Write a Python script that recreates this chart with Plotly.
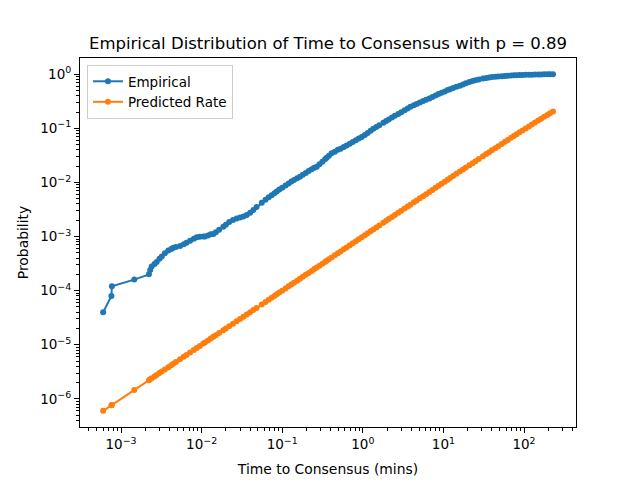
import plotly.graph_objects as go

# Sample times (mins), shared by both series
time_mins = [
    0.00060, 0.00076, 0.00077, 0.00146, 0.00222, 0.00230, 0.00240, 0.00260, 0.00277, 0.00300,
    0.00320, 0.00350, 0.00386, 0.00420, 0.00446, 0.00480, 0.00540, 0.00600, 0.00650, 0.00720,
    0.00800, 0.00870, 0.00950, 0.0105, 0.0110, 0.0120, 0.0130, 0.0140, 0.0150, 0.0165,
    0.0186, 0.0200, 0.0220, 0.0245, 0.0272, 0.0300, 0.0330, 0.0363, 0.0400, 0.0439,
    0.0480, 0.0557, 0.0620, 0.0680, 0.0740, 0.0800, 0.0855, 0.0920, 0.100, 0.110,
    0.120, 0.130, 0.140, 0.153, 0.166, 0.180, 0.196, 0.213, 0.232, 0.250,
    0.268, 0.290, 0.315, 0.340, 0.356, 0.380, 0.410, 0.450, 0.490, 0.530,
    0.580, 0.630, 0.690, 0.750, 0.820, 0.890, 0.970, 1.06, 1.15, 1.25,
    1.35, 1.47, 1.60, 1.80, 1.95, 2.10, 2.30, 2.50, 2.75, 3.00,
    3.30, 3.60, 3.90, 4.30, 4.66, 5.10, 5.60, 6.10, 6.70, 7.30,
    8.00, 8.70, 9.50, 10.4, 11.3, 12.1, 13.2, 14.5, 16.0, 17.5,
    19.0, 21.0, 23.0, 25.0, 27.5, 31.0, 34.0, 37.0, 40.0, 44.0,
    48.0, 53.0, 58.0, 63.0, 69.0, 75.0, 81.0, 88.0, 96.0, 105.0,
    115.0, 125.0, 137.0, 150.0, 163.0, 178.0, 195.0, 210.0, 229.0,
]

empirical = [
    4.0e-5, 8.0e-5, 1.2e-4, 1.6e-4, 2.0e-4, 2.4e-4, 2.8e-4, 3.1e-4, 3.4e-4, 3.9e-4,
    4.3e-4, 4.9e-4, 5.5e-4, 5.9e-4, 6.2e-4, 6.4e-4, 6.7e-4, 7.2e-4, 7.7e-4, 8.4e-4,
    9.1e-4, 9.7e-4, 9.9e-4, 1.0e-3, 1.0e-3, 1.05e-3, 1.1e-3, 1.12e-3, 1.2e-3, 1.33e-3,
    1.52e-3, 1.65e-3, 1.85e-3, 2.02e-3, 2.15e-3, 2.25e-3, 2.35e-3, 2.5e-3, 2.75e-3, 3.1e-3,
    3.5e-3, 4.2e-3, 4.8e-3, 5.3e-3, 5.8e-3, 6.3e-3, 6.8e-3, 7.4e-3, 8.0e-3, 8.8e-3,
    9.6e-3, 0.0104, 0.0111, 0.0120, 0.0128, 0.0138, 0.0150, 0.0162, 0.0175, 0.0186,
    0.0196, 0.0217, 0.0242, 0.0267, 0.0285, 0.0310, 0.0345, 0.0370, 0.0400, 0.0420,
    0.0450, 0.0480, 0.0520, 0.0560, 0.0600, 0.0650, 0.0690, 0.0750, 0.0820, 0.0900,
    0.098, 0.106, 0.114, 0.127, 0.136, 0.146, 0.159, 0.170, 0.184, 0.198,
    0.215, 0.232, 0.250, 0.267, 0.283, 0.300, 0.320, 0.337, 0.357, 0.380,
    0.405, 0.430, 0.455, 0.480, 0.510, 0.530, 0.555, 0.585, 0.615, 0.645,
    0.680, 0.715, 0.750, 0.775, 0.800, 0.835, 0.855, 0.872, 0.886, 0.900,
    0.912, 0.922, 0.930, 0.940, 0.948, 0.955, 0.960, 0.966, 0.970, 0.975,
    0.979, 0.983, 0.987, 0.990, 0.993, 0.995, 0.997, 0.999, 1.000,
]

predicted = [
    6.0e-7, 7.6e-7, 7.7e-7, 1.46e-6, 2.22e-6, 2.3e-6, 2.4e-6, 2.6e-6, 2.77e-6, 3.0e-6,
    3.2e-6, 3.5e-6, 3.86e-6, 4.2e-6, 4.46e-6, 4.8e-6, 5.4e-6, 6.0e-6, 6.5e-6, 7.2e-6,
    8.0e-6, 8.7e-6, 9.5e-6, 1.05e-5, 1.1e-5, 1.2e-5, 1.3e-5, 1.4e-5, 1.5e-5, 1.65e-5,
    1.86e-5, 2.0e-5, 2.2e-5, 2.45e-5, 2.72e-5, 3.0e-5, 3.3e-5, 3.63e-5, 4.0e-5, 4.39e-5,
    4.8e-5, 5.57e-5, 6.2e-5, 6.8e-5, 7.4e-5, 8.0e-5, 8.55e-5, 9.2e-5, 1.0e-4, 1.1e-4,
    1.2e-4, 1.3e-4, 1.4e-4, 1.53e-4, 1.66e-4, 1.8e-4, 1.96e-4, 2.13e-4, 2.32e-4, 2.5e-4,
    2.68e-4, 2.9e-4, 3.15e-4, 3.4e-4, 3.56e-4, 3.8e-4, 4.1e-4, 4.5e-4, 4.9e-4, 5.3e-4,
    5.8e-4, 6.3e-4, 6.9e-4, 7.5e-4, 8.2e-4, 8.9e-4, 9.7e-4, 1.06e-3, 1.15e-3, 1.25e-3,
    1.35e-3, 1.47e-3, 1.6e-3, 1.8e-3, 1.95e-3, 2.1e-3, 2.3e-3, 2.5e-3, 2.75e-3, 3.0e-3,
    3.29e-3, 3.59e-3, 3.89e-3, 4.29e-3, 4.65e-3, 5.09e-3, 5.58e-3, 6.08e-3, 6.68e-3, 7.27e-3,
    7.97e-3, 8.66e-3, 9.46e-3, 0.01035, 0.01124, 0.01203, 0.01311, 0.0144, 0.01587, 0.01735,
    0.01882, 0.02078, 0.02274, 0.02469, 0.02713, 0.03052, 0.03343, 0.03632, 0.03921, 0.04305,
    0.04687, 0.05162, 0.05635, 0.06106, 0.06667, 0.07226, 0.0778, 0.08424, 0.09153, 0.09967,
    0.1086, 0.1175, 0.1280, 0.1393, 0.1504, 0.1631, 0.1772, 0.1894, 0.2047,
]

x_tick_vals = [1e-3, 1e-2, 1e-1, 1, 10, 100]
x_tick_text = ["10<sup>\u22123</sup>", "10<sup>\u22122</sup>", "10<sup>\u22121</sup>",
               "10<sup>0</sup>", "10<sup>1</sup>", "10<sup>2</sup>"]
y_tick_vals = [1e-6, 1e-5, 1e-4, 1e-3, 1e-2, 1e-1, 1]
y_tick_text = ["10<sup>\u22126</sup>", "10<sup>\u22125</sup>", "10<sup>\u22124</sup>",
               "10<sup>\u22123</sup>", "10<sup>\u22122</sup>", "10<sup>\u22121</sup>",
               "10<sup>0</sup>"]

minor_x = [k * 10.0 ** e for e in range(-4, 3) for k in range(2, 10)]
minor_y = [k * 10.0 ** e for e in range(-7, 1) for k in range(2, 10)]

BLUE = "#1f77b4"
ORANGE = "#ff7f0e"

fig = go.Figure()
fig.add_trace(go.Scatter(
    x=time_mins, y=empirical, mode="lines+markers", name="Empirical",
    line=dict(color=BLUE, width=2), marker=dict(color=BLUE, size=6, line=dict(width=0)),
))
fig.add_trace(go.Scatter(
    x=time_mins, y=predicted, mode="lines+markers", name="Predicted Rate",
    line=dict(color=ORANGE, width=2), marker=dict(color=ORANGE, size=6, line=dict(width=0)),
))

axis_common = dict(
    type="log", showgrid=False, zeroline=False, showline=True, linecolor="black",
    linewidth=1.1, mirror=True, ticks="outside", ticklen=5, tickwidth=1.1,
    tickcolor="black", tickfont=dict(size=13.5, color="black"), automargin=False,
)

fig.update_xaxes(
    **axis_common, range=[-3.509, 2.645], tickvals=x_tick_vals, ticktext=x_tick_text,
    minor=dict(tickvals=minor_x, ticks="outside", ticklen=3, tickwidth=0.8, tickcolor="black"),
    title=dict(text="Time to Consensus (mins)", font=dict(size=13.9, color="black"), standoff=13),
)
fig.update_yaxes(
    **axis_common, range=[-6.52, 0.30], tickvals=y_tick_vals, ticktext=y_tick_text,
    minor=dict(tickvals=minor_y, ticks="outside", ticklen=3, tickwidth=0.8, tickcolor="black"),
    title=dict(text="Probability", font=dict(size=13.9, color="black"), standoff=8),
)

# The page body adds an 8px offset, so the figure is laid out 8px up/left.
fig.update_layout(
    width=640, height=480,
    margin=dict(l=72, r=72, t=50, b=61, pad=0),
    paper_bgcolor="white", plot_bgcolor="white",
    font=dict(family="DejaVu Sans", color="black"),
    title=dict(text="Empirical Distribution of Time to Consensus with p = 0.89",
               x=0.5, xref="paper", xanchor="center",
               y=1 - 35 / 480, yref="container", yanchor="middle",
               font=dict(size=16.5, color="black"), automargin=False),
    showlegend=True,
    legend=dict(x=0.014, y=0.981, xanchor="left", yanchor="top",
                bgcolor="rgba(255,255,255,0.8)", bordercolor="#cccccc", borderwidth=1,
                font=dict(size=13.5, color="black"), tracegroupgap=0,
                itemwidth=30),
)

fig.write_html("out.html")
